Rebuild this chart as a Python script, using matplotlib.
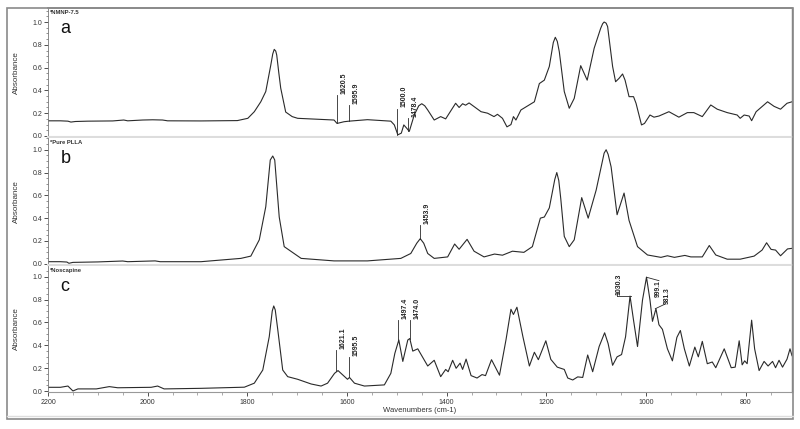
import matplotlib
matplotlib.use("Agg")
import matplotlib.pyplot as plt
from matplotlib.patches import Rectangle
from matplotlib.ticker import MultipleLocator

plt.rcParams['font.family'] = ['Liberation Sans', 'DejaVu Sans']

# ---------------- data ----------------
wn_a = [2200, 2175, 2160, 2154, 2145, 2120, 2070, 2048, 2040, 2010, 1990, 1970, 1960, 1893, 1820,
        1799, 1786, 1773, 1763, 1753, 1749, 1746, 1743, 1741, 1737, 1733, 1723, 1710, 1699, 1626, 1620, 1606, 1596, 1559,
        1512, 1505, 1498, 1491, 1486, 1480, 1475, 1465, 1456, 1450, 1444, 1438, 1425, 1412, 1402, 1382, 1375,
        1368, 1362, 1355, 1331, 1318, 1305, 1298, 1288, 1279, 1271, 1266, 1261, 1251, 1224, 1214,
        1204, 1194, 1186, 1182, 1178, 1174, 1164, 1154, 1144, 1131, 1118, 1104, 1091, 1087, 1084, 1080, 1077, 1067, 1061,
        1054, 1047, 1042, 1034, 1025, 1020, 1009, 1003, 992, 984, 974, 954, 934, 917, 904,
        887, 870, 857, 837, 817, 811, 803, 793, 788, 779, 756, 743, 730, 717, 707]
ab_a = [0.133, 0.133, 0.130, 0.122, 0.127, 0.130, 0.132, 0.140, 0.133, 0.140, 0.142, 0.140, 0.133, 0.132, 0.135,
        0.155, 0.213, 0.300, 0.390, 0.620, 0.720, 0.760, 0.745, 0.710, 0.560, 0.420, 0.210, 0.170, 0.155, 0.140, 0.110, 0.125, 0.130, 0.143,
        0.130, 0.097, 0.010, 0.025, 0.097, 0.067, 0.040, 0.185, 0.265, 0.283, 0.265, 0.228, 0.140, 0.170, 0.150, 0.287, 0.250,
        0.283, 0.270, 0.290, 0.213, 0.200, 0.170, 0.190, 0.155, 0.080, 0.100, 0.170, 0.140, 0.228, 0.300, 0.460,
        0.490, 0.610, 0.820, 0.866, 0.830, 0.740, 0.390, 0.243, 0.330, 0.617, 0.490, 0.770, 0.944, 0.985, 1.000, 0.990, 0.960, 0.610, 0.476,
        0.506, 0.544, 0.490, 0.345, 0.345, 0.287, 0.097, 0.110, 0.184, 0.165, 0.175, 0.213, 0.165, 0.205, 0.205,
        0.170, 0.272, 0.235, 0.205, 0.184, 0.155, 0.184, 0.175, 0.134, 0.213, 0.300, 0.260, 0.235, 0.287, 0.300]

wn_b = [2200, 2175, 2162, 2158, 2150, 2100, 2050, 2040, 1985, 1975, 1893, 1813, 1793, 1776, 1763,
        1754, 1749, 1745, 1736, 1726, 1692, 1626, 1559, 1492, 1472, 1460, 1453, 1446, 1438, 1425, 1398, 1384,
        1375, 1359, 1345, 1325, 1304, 1288, 1268, 1245, 1228, 1212, 1204, 1194, 1183, 1179, 1175, 1171, 1164,
        1154, 1144, 1129, 1116, 1100, 1084, 1080, 1076, 1070, 1058, 1044, 1034, 1017, 997, 970, 957, 943,
        922, 910, 887, 873, 860, 837, 811, 783, 767, 758, 749, 740, 730, 716, 707]
ab_b = [0.018, 0.018, 0.015, 0.004, 0.012, 0.016, 0.024, 0.018, 0.025, 0.018, 0.018, 0.047, 0.067, 0.210, 0.500,
        0.910, 0.945, 0.910, 0.410, 0.150, 0.047, 0.025, 0.025, 0.047, 0.090, 0.180, 0.220, 0.180, 0.090, 0.047, 0.060, 0.173,
        0.127, 0.214, 0.110, 0.060, 0.085, 0.075, 0.110, 0.100, 0.150, 0.400, 0.410, 0.490, 0.740, 0.800, 0.730, 0.570, 0.240,
        0.150, 0.210, 0.580, 0.400, 0.646, 0.970, 1.000, 0.960, 0.850, 0.430, 0.620, 0.380, 0.150, 0.077, 0.056, 0.070, 0.056,
        0.073, 0.060, 0.060, 0.160, 0.077, 0.040, 0.040, 0.067, 0.120, 0.184, 0.126, 0.120, 0.070, 0.130, 0.135]

wn_c = [2200, 2175, 2160, 2150, 2140, 2103, 2077, 2060, 1993, 1980, 1967, 1893, 1806, 1786, 1769,
        1756, 1750, 1747, 1744, 1739, 1729, 1719, 1699, 1672, 1652, 1639, 1625, 1618, 1608, 1599, 1595, 1585,
        1565, 1525, 1512, 1504, 1496, 1488, 1478, 1474, 1468, 1458, 1438, 1425, 1412, 1402, 1397,
        1388, 1381, 1373, 1368, 1361, 1351, 1339, 1329, 1322, 1310, 1294, 1281, 1271, 1266, 1259,
        1247, 1234, 1224, 1216, 1201, 1191, 1178, 1164, 1157, 1147, 1137, 1127, 1117, 1107, 1094,
        1083, 1076, 1067, 1058, 1049, 1041, 1032, 1025, 1017, 1007, 999, 992, 987, 980, 974,
        967, 957, 947, 938, 931, 923, 913, 902, 895, 887, 877, 867, 860, 843, 829,
        821, 813, 807, 802, 797, 788, 782, 773, 763, 755, 746, 740, 733, 726, 717,
        711, 707]
ab_c = [0.034, 0.034, 0.045, 0.002, 0.020, 0.020, 0.040, 0.030, 0.034, 0.045, 0.020, 0.025, 0.035, 0.070, 0.185,
        0.476, 0.700, 0.744, 0.710, 0.540, 0.185, 0.127, 0.104, 0.063, 0.045, 0.070, 0.156, 0.180, 0.140, 0.104, 0.120, 0.070,
        0.045, 0.055, 0.156, 0.330, 0.447, 0.260, 0.447, 0.460, 0.350, 0.370, 0.220, 0.270, 0.127, 0.190, 0.170,
        0.270, 0.200, 0.245, 0.190, 0.280, 0.136, 0.115, 0.145, 0.136, 0.275, 0.140, 0.447, 0.715, 0.670, 0.733,
        0.476, 0.220, 0.340, 0.275, 0.440, 0.278, 0.210, 0.190, 0.115, 0.098, 0.125, 0.120, 0.316, 0.170, 0.390,
        0.510, 0.416, 0.226, 0.300, 0.320, 0.475, 0.830, 0.620, 0.390, 0.796, 0.995, 0.796, 0.610, 0.720, 0.580,
        0.540, 0.370, 0.265, 0.470, 0.530, 0.370, 0.220, 0.385, 0.300, 0.435, 0.240, 0.255, 0.205, 0.370, 0.205,
        0.210, 0.440, 0.230, 0.265, 0.240, 0.620, 0.370, 0.180, 0.260, 0.220, 0.260, 0.205, 0.270, 0.210, 0.280,
        0.370, 0.310]

titles = ["*NMNP-7.5", "*Pure PLLA", "*Noscapine"]
panel_letters = ["a", "b", "c"]

# peak labels: (label, peak wn, peak abs, label-base abs)
peaks_a = [("1620.5", 1620.5, 0.110, 0.36), ("1595.9", 1595.9, 0.130, 0.27),
           ("1500.0", 1500.0, 0.010, 0.24), ("1478.4", 1478.4, 0.040, 0.16)]
peaks_b = [("1453.9", 1453.9, 0.220, 0.34)]
peaks_c = [("1621.1", 1621.1, 0.180, 0.36), ("1595.5", 1595.5, 0.120, 0.30),
           ("1497.4", 1497.4, 0.447, 0.62), ("1474.0", 1474.0, 0.460, 0.62)]

# ---------------- figure ----------------
W, H = 800, 429
fig = plt.figure(figsize=(W / 100, H / 100), dpi=100)
fig.patch.set_facecolor("white")

def fy(px):
    return 1 - px / H

left, right = 48 / W, 792 / W
boxes = [(8, 137), (138, 265), (266, 392)]
ylims = [(-0.009, 1.123), (-0.011, 1.103), (-0.007, 1.093)]
series = [(wn_a, ab_a, peaks_a), (wn_b, ab_b, peaks_b), (wn_c, ab_c, peaks_c)]

line_col = "#2a2a2a"
txt_col = "#333333"
axes = []
for i, ((top, bot), yl, (wn, ab, pk)) in enumerate(zip(boxes, ylims, series)):
    ax = fig.add_axes([left, fy(bot), right - left, (bot - top) / H])
    axes.append(ax)
    ax.plot(wn, ab, color=line_col, lw=0.8, solid_joinstyle="round")
    ax.set_xlim(2200, 707)
    ax.set_ylim(*yl)
    ax.yaxis.set_major_locator(MultipleLocator(0.2))
    ax.yaxis.set_minor_locator(MultipleLocator(0.05))
    ax.xaxis.set_major_locator(MultipleLocator(200))
    ax.xaxis.set_minor_locator(MultipleLocator(50))
    ax.tick_params(axis='y', which='major', labelsize=5, colors=txt_col, length=3, width=0.6, pad=1)
    ax.tick_params(axis='y', which='minor', length=1.5, width=0.5, colors="#666666")
    ax.set_yticks([0.0, 0.2, 0.4, 0.6, 0.8, 1.0])
    ax.set_yticklabels(["0.0", "0.2", "0.4", "0.6", "0.8", "1.0"])
    ax.set_ylabel("Absorbance", fontsize=5.8, color=txt_col, labelpad=6)
    ax.spines["left"].set_color("#777777")
    ax.spines["left"].set_linewidth(0.6)
    ax.spines["right"].set_color("#777777")
    ax.spines["right"].set_linewidth(1.0)
    ax.spines["top"].set_visible(i == 0)
    ax.spines["top"].set_color("#888888")
    ax.spines["top"].set_linewidth(1.2)
    if i < 2:
        ax.spines["bottom"].set_color("#dddddd")
        ax.spines["bottom"].set_linewidth(1.5)
        ax.tick_params(axis='x', which='both', bottom=False, labelbottom=False)
    else:
        ax.spines["bottom"].set_color("#999999")
        ax.spines["bottom"].set_linewidth(0.8)
        ax.tick_params(axis='x', which='major', labelsize=5, colors=txt_col, length=3, width=0.6, pad=2)
        ax.tick_params(axis='x', which='minor', length=2, width=0.5, colors="#888888")
        ax.set_xlabel("Wavenumbers (cm-1)", fontsize=5.5, color=txt_col, labelpad=1)
    ax.text(0.003, 0.985, titles[i], transform=ax.transAxes, fontsize=4.2, fontweight="bold",
            color=txt_col, ha="left", va="top")
    ax.text(0.017, 0.84, panel_letters[i], transform=ax.transAxes, fontsize=13,
            color="#111111", ha="left", va="center")
    for lab, x, y, ytop in pk:
        ax.plot([x, x], [y, ytop], color=line_col, lw=0.6)
        ax.text(x - 7, ytop + 0.01, lab, rotation=90, fontsize=5, fontweight="bold",
                color="#222222", ha="left", va="bottom")

# bracket-style leaders for panel c
axc = axes[2]
axc.plot([1030.3, 1058], [0.83, 0.83], color=line_col, lw=0.6)
axc.plot([1058, 1058], [0.83, 0.86], color=line_col, lw=0.6)
axc.text(1061, 0.84, "1030.3", rotation=90, fontsize=5, fontweight="bold",
         color="#222222", ha="left", va="bottom")
axc.plot([999.1, 974], [0.995, 0.965], color=line_col, lw=0.6)
axc.text(983, 0.965, "999.1", rotation=90, fontsize=4.8, fontweight="bold",
         color="#222222", ha="left", va="top")
axc.plot([981.3, 962], [0.72, 0.76], color=line_col, lw=0.6)
axc.text(964, 0.765, "981.3", rotation=90, fontsize=4.8, fontweight="bold",
         color="#222222", ha="left", va="bottom")

for ax in axes:
    ax.yaxis.set_label_coords(-0.038, 0.5)

# outer frame
fig.add_artist(Rectangle((7 / W, fy(419)), (793 - 7) / W, (419 - 8) / H, transform=fig.transFigure,
                         fill=False, edgecolor="#8a8a8a", lw=1.2))
fig.add_artist(plt.Line2D([7 / W, 793 / W], [fy(416), fy(416)], transform=fig.transFigure,
                          color="#dddddd", lw=1.0))

fig.savefig("out.png", dpi=100, facecolor="white")
